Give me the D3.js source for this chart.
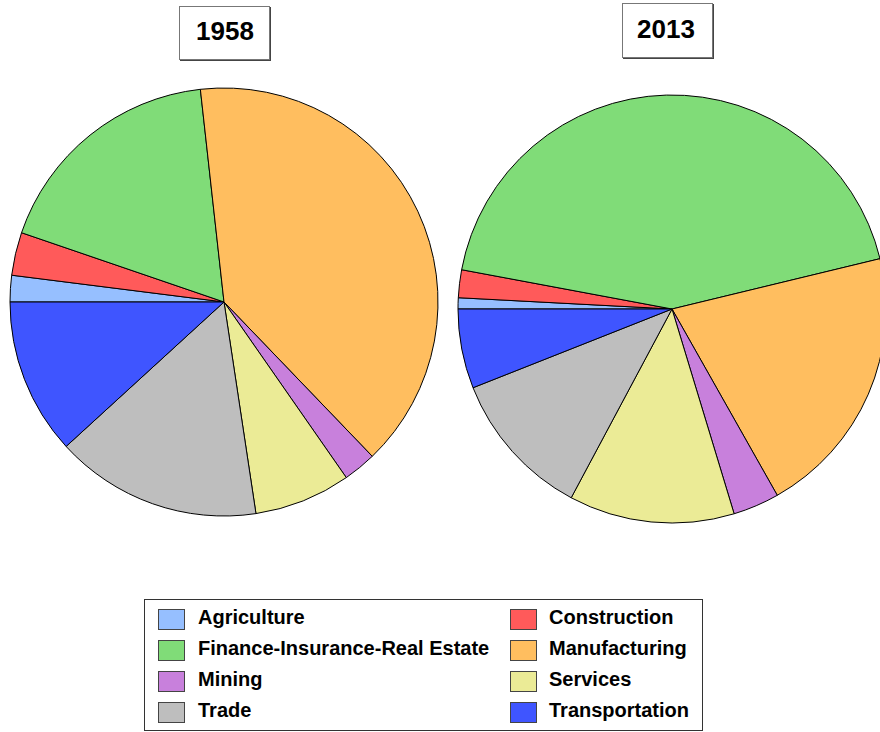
<!DOCTYPE html>
<html>
<head>
<meta charset="utf-8">
<script src="https://cdn.jsdelivr.net/npm/d3@7"></script>
<style>
  html, body { margin: 0; padding: 0; background: #fff; }
  svg { display: block; font-family: "Liberation Sans", Arial, Helvetica, sans-serif; }
</style>
</head>
<body>
<svg id="chart" width="880" height="732"></svg>
<script>
// ---- data ----
const categories = ["Agriculture", "Construction", "Finance-Insurance-Real Estate", "Manufacturing",
                    "Mining", "Services", "Trade", "Transportation"];
const values1958 = [2.0, 3.25, 18.0, 39.6, 2.5, 7.3, 15.6, 11.8];
const values2013 = [0.84, 2.1, 43.3, 20.6, 3.5, 12.5, 11.2, 6.0];
const colors = ["#96BFFF", "#FF5A5A", "#80DC78", "#FFBE5F", "#C880DC", "#EBEB96", "#BEBEBE", "#3F55FF"];
const years = ["1958", "2013"];

// ---- drawing ----
const svg = d3.select("#chart");
const color = d3.scaleOrdinal().domain(categories).range(colors);

const pies = [
  { year: years[0], values: values1958, cx: 224, cy: 302, r: 214, box: { x: 179, y: 6, w: 90, h: 53 }, tx: 225, ty: 40 },
  { year: years[1], values: values2013, cx: 672, cy: 309, r: 214, box: { x: 622, y: 3, w: 90, h: 54 }, tx: 666, ty: 38 }
];

const pieGen = d3.pie().sort(null).value(d => d.v)
  .startAngle(-Math.PI / 2).endAngle(3 * Math.PI / 2);

pies.forEach(p => {
  const data = categories.map((c, i) => ({ c, v: p.values[i] }));
  const arc = d3.arc().innerRadius(0).outerRadius(p.r);
  const g = svg.append("g").attr("transform", `translate(${p.cx},${p.cy})`);
  g.selectAll("path").data(pieGen(data)).join("path")
    .attr("d", arc)
    .attr("fill", d => color(d.data.c))
    .attr("stroke", "#000")
    .attr("stroke-width", 1)
    .attr("stroke-linejoin", "round");

  // title box with slight shadow on right/bottom
  svg.append("rect")
    .attr("x", p.box.x + 1.5).attr("y", p.box.y + 1.5)
    .attr("width", p.box.w).attr("height", p.box.h)
    .attr("fill", "none").attr("stroke", "#444").attr("stroke-width", 1);
  svg.append("rect")
    .attr("x", p.box.x + 0.5).attr("y", p.box.y + 0.5)
    .attr("width", p.box.w).attr("height", p.box.h)
    .attr("fill", "#fff").attr("stroke", "#777").attr("stroke-width", 1);
  svg.append("text")
    .attr("x", p.tx).attr("y", p.ty)
    .attr("text-anchor", "middle")
    .attr("font-size", 26).attr("font-weight", "bold").attr("fill", "#000")
    .text(p.year);
});

// ---- legend ----
const lg = svg.append("g");
lg.append("rect")
  .attr("x", 144.5).attr("y", 599.5).attr("width", 558).attr("height", 131)
  .attr("fill", "#fff").attr("stroke", "#333").attr("stroke-width", 1);

categories.forEach((c, i) => {
  const col = i % 2, row = Math.floor(i / 2);
  const sx = col === 0 ? 158.5 : 510.5;
  const sy = 609.5 + row * 31;
  lg.append("rect")
    .attr("x", sx).attr("y", sy).attr("width", 26).attr("height", 20)
    .attr("fill", color(c)).attr("stroke", "#444").attr("stroke-width", 1);
  lg.append("text")
    .attr("x", col === 0 ? 198 : 549).attr("y", 623.5 + row * 31)
    .attr("font-size", 20).attr("font-weight", "bold").attr("fill", "#000")
    .text(c);
});
</script>
</body>
</html>
